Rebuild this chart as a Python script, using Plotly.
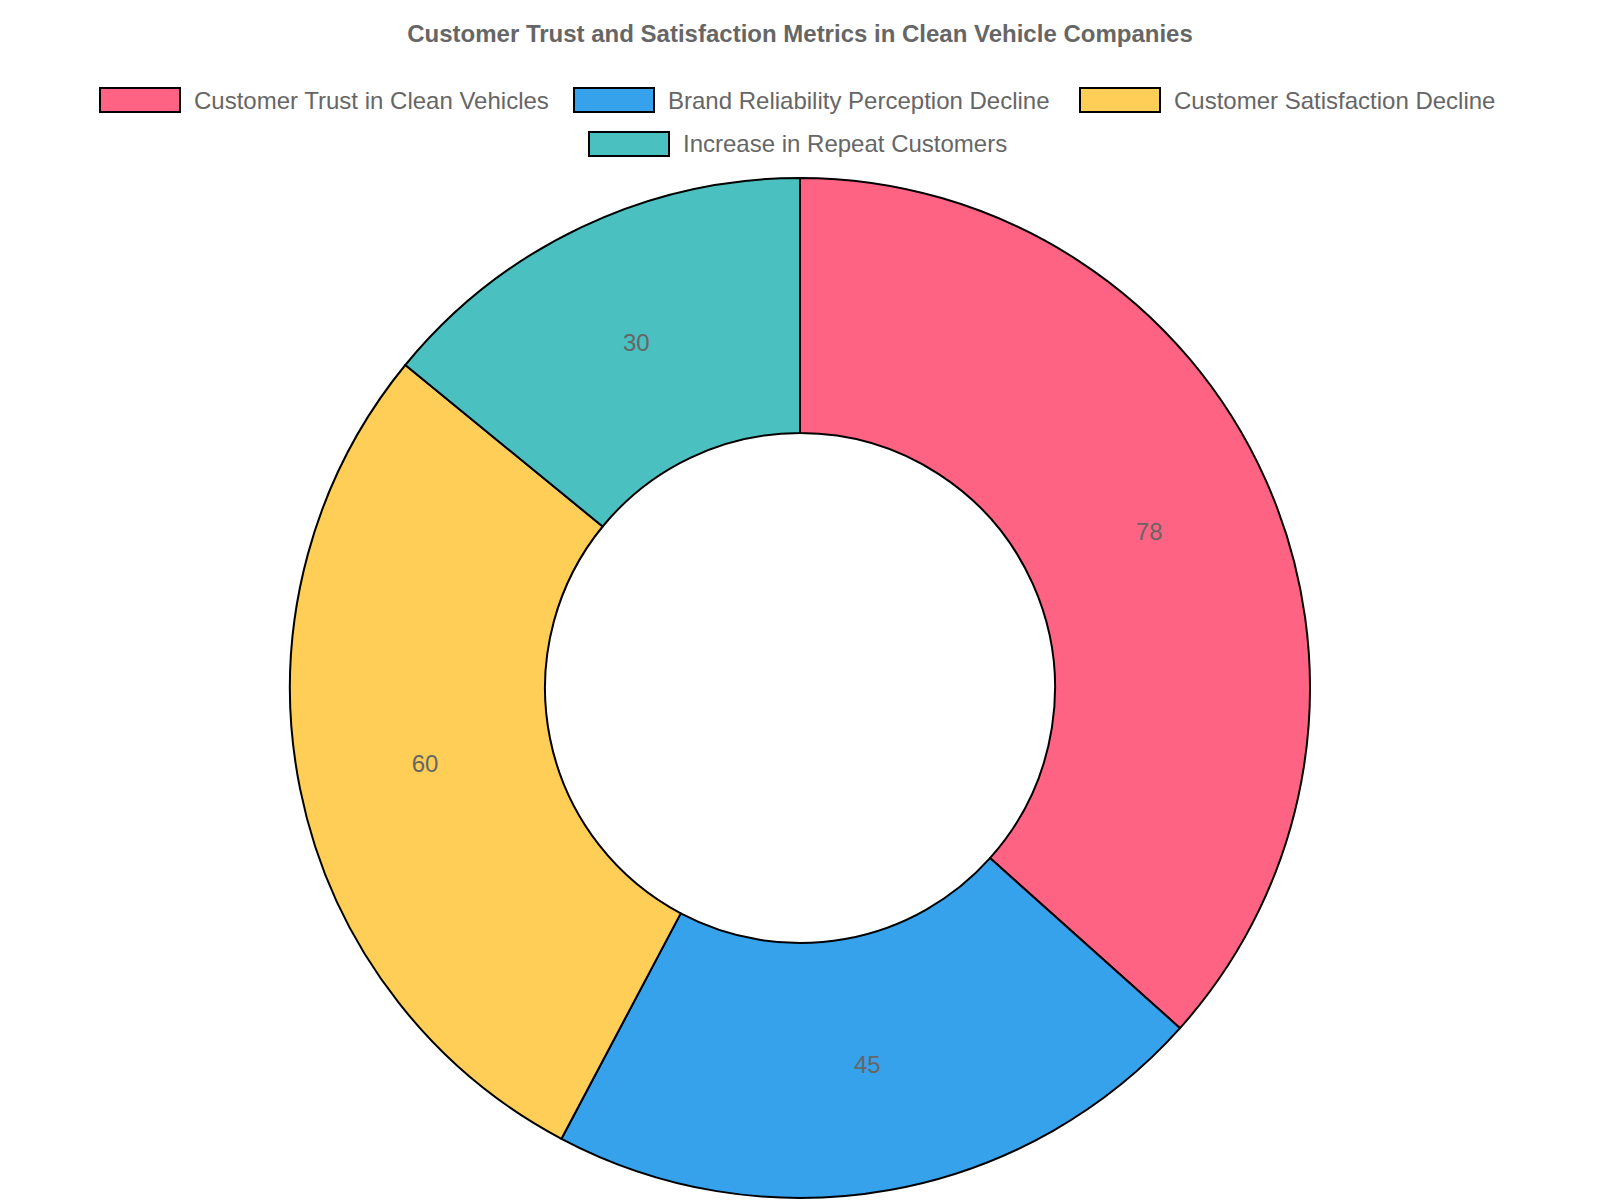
import plotly.graph_objects as go

labels = ["Customer Trust in Clean Vehicles", "Brand Reliability Perception Decline",
          "Customer Satisfaction Decline", "Increase in Repeat Customers"]
values = [78, 45, 60, 30]
colors = ["#FF6384", "#36A2EB", "#FFCE56", "#4BC0C0"]

W, H = 1600, 1200
grey = "#666666"

fig = go.Figure(go.Pie(
    labels=labels, values=values, hole=0.5, sort=False, direction="clockwise",
    rotation=0, marker=dict(colors=colors, line=dict(color="black", width=2)),
    textinfo="value", textposition="inside", insidetextorientation="horizontal",
    textfont=dict(size=24, color=grey, family="Liberation Sans, Arial, sans-serif"),
    hoverinfo="label+value", showlegend=False,
    domain=dict(x=[0, 1584 / W], y=[10 / H, 1 - 170 / H]),
))

# legend drawn by hand (wide boxes, centred rows like the original)
box_left = [92, 566, 1072, 581]
row_mid = [92, 92, 92, 136]
box_w, box_h = 80, 24
for lab, col, bx, ry in zip(labels, colors, box_left, row_mid):
    fig.add_shape(type="rect", xref="paper", yref="paper",
                  x0=bx / W, x1=(bx + box_w) / W,
                  y0=1 - (ry - box_h / 2) / H, y1=1 - (ry + box_h / 2) / H,
                  fillcolor=col, line=dict(color="black", width=2))
    fig.add_annotation(text=lab, xref="paper", yref="paper",
                       x=(bx + box_w + 12) / W, y=1 - ry / H,
                       xanchor="left", yanchor="middle", showarrow=False,
                       font=dict(size=24, color=grey))

fig.update_layout(
    width=W, height=H,
    paper_bgcolor="white",
    font=dict(family="Liberation Sans, Arial, sans-serif", color=grey),
    title=dict(text="<b>Customer Trust and Satisfaction Metrics in Clean Vehicle Companies</b>",
               x=792 / W, xanchor="center", y=1 - 26 / H, yanchor="middle",
               font=dict(size=24, color=grey)),
    margin=dict(l=0, r=0, t=0, b=0),
)

fig.write_html("out.html")
